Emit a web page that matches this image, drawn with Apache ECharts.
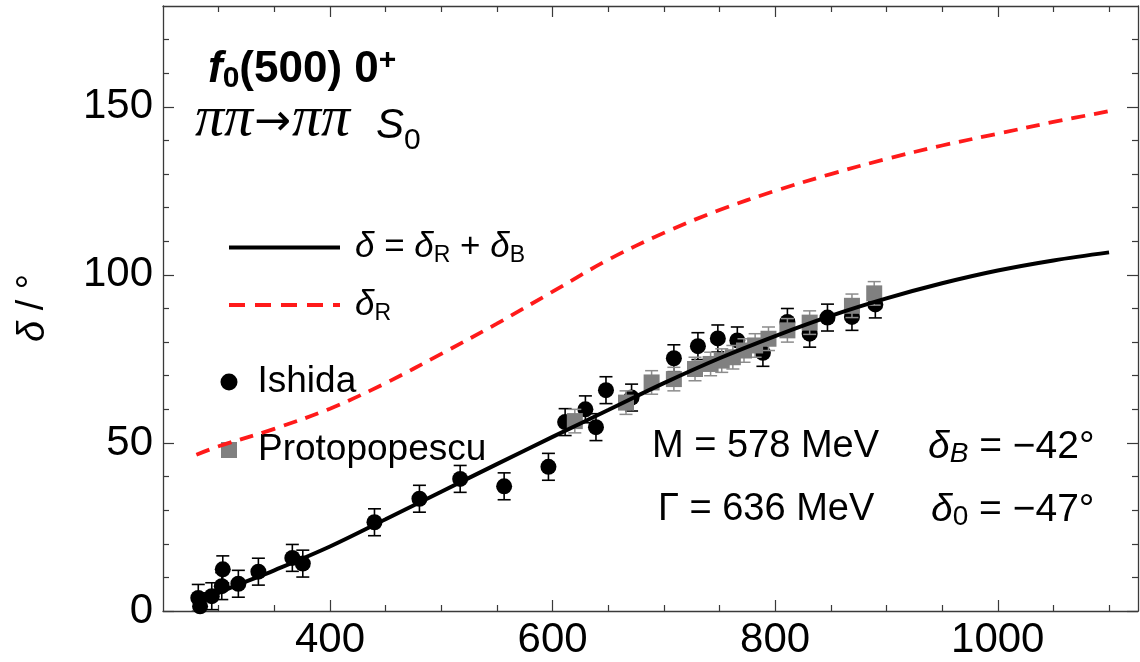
<!DOCTYPE html>
<html><head><meta charset="utf-8">
<script src="https://cdn.jsdelivr.net/npm/echarts@6/dist/echarts.min.js"></script>
<style>html,body{margin:0;padding:0;background:#fff}#c{width:1140px;height:662px}</style>
</head><body><div id="c"></div>
<script>
// ---- tick values ----
const xMajorTicks = [400, 600, 800, 1000];
const xMinorTicks = [300, 350, 450, 500, 550, 650, 700, 750, 850, 900, 950, 1050, 1100];
const yMajorTicks = [0, 50, 100, 150];
const yMinorTicks = [10, 20, 30, 40, 60, 70, 80, 90, 110, 120, 130, 140, 160, 170];

// ---- curves ----
const curveX = [280, 300, 350, 400, 450, 500, 550, 600, 650, 700, 750, 800, 850, 900, 950, 1000, 1050, 1100];
const fitY   = [2, 5.4, 12.1, 19.2, 27.3, 35.5, 43.7, 51.8, 59.8, 67.8, 75.2, 81.8, 87.8, 93, 97.5, 101.3, 104.3, 106.7];
const resY   = [46.5, 49, 54.2, 60.2, 67.8, 76.5, 85.5, 95, 104.5, 112.5, 119.3, 125, 130, 134.5, 138.5, 142, 145.5, 148.7];

// ---- Ishida data ----
const ishidaX   = [281.7, 283.3, 293.8, 302.8, 303.7, 317.7, 335.7, 366.2, 375.6, 440, 480.4, 517, 556.5, 596.3, 611.3, 629.5, 639, 648, 671, 709, 730.6, 748.5, 766, 789, 811, 831, 847, 869, 890];
const ishidaY   = [3.9, 1.4, 4.4, 7.4, 12.4, 8.1, 11.7, 15.8, 14.1, 26.4, 33.4, 39.3, 37.1, 42.9, 56.2, 60, 54.7, 65.7, 63.5, 75.2, 78.8, 81.1, 80.5, 76.8, 86, 82.5, 87.3, 87.5, 91.2];
const ishidaErr = [4, 4, 4, 4, 4, 4, 4, 4, 4, 4, 4, 4, 4, 4, 4, 4, 4, 4, 4, 4, 4, 4, 4, 4, 4, 4, 4, 4, 4];

// ---- Protopopescu data ----
const protoX   = [620, 666, 689, 709, 728, 742, 752, 762, 772, 782, 794, 811, 831, 869, 889];
const protoY   = [56.5, 62, 68, 69, 72, 73.5, 74.5, 75.5, 77.5, 79, 81, 83.5, 85.8, 90.8, 94.5];
const protoErr = [3.5, 3.5, 3.5, 3.5, 3.5, 3.5, 3.5, 3.5, 3.5, 3.5, 3.5, 3.5, 3.5, 3.5, 3.5];

const FONT = "'Liberation Sans', Arial, Helvetica, sans-serif";
const SERIF = "'Liberation Serif', 'Times New Roman', serif";
const FRAME = '#3a3a3a';
const TICKFS = 42;

const zip = (a, b, c) => a.map((v, i) => c ? [v, b[i], c[i]] : [v, b[i]]);

function errRender(color, width) {
  return function (params, api) {
    const x = api.value(0), y = api.value(1), e = api.value(2);
    const t = api.coord([x, y + e]);
    const b = api.coord([x, y - e]);
    const hw = 6.5;
    const style = { stroke: color, lineWidth: width, fill: null };
    return {
      type: 'group',
      children: [
        { type: 'line', shape: { x1: t[0], y1: t[1], x2: b[0], y2: b[1] }, style },
        { type: 'line', shape: { x1: t[0] - hw, y1: t[1], x2: t[0] + hw, y2: t[1] }, style },
        { type: 'line', shape: { x1: b[0] - hw, y1: b[1], x2: b[0] + hw, y2: b[1] }, style }
      ]
    };
  };
}

function xAx(pos, vals, len, labels, line) {
  return {
    type: 'value', min: 250, max: 1126, position: pos,
    axisLine: { show: line, onZero: false, lineStyle: { color: FRAME, width: 1.3 } },
    axisTick: { show: true, inside: true, length: len, customValues: vals, lineStyle: { color: FRAME, width: 1.2 } },
    axisLabel: labels ? { show: true, customValues: vals, fontSize: TICKFS, fontFamily: FONT, color: '#000', margin: 8, formatter: v => String(v) } : { show: false },
    splitLine: { show: false }
  };
}
function yAx(pos, vals, len, labels, line) {
  return {
    type: 'value', min: 0, max: 180, position: pos,
    axisLine: { show: line, onZero: false, lineStyle: { color: FRAME, width: 1.3 } },
    axisTick: { show: true, inside: true, length: len, customValues: vals, lineStyle: { color: FRAME, width: 1.2 } },
    axisLabel: labels ? { show: true, customValues: vals, fontSize: TICKFS, fontFamily: FONT, color: '#000', margin: 10, formatter: v => String(v) } : { show: false },
    splitLine: { show: false }
  };
}

const chart = echarts.init(document.getElementById('c'), null, { renderer: 'canvas' });

const richLegend = {
  i: { fontSize: 35, fontStyle: 'italic', fontFamily: FONT, lineHeight: 40 },
  s: { fontSize: 23, fontFamily: FONT, lineHeight: 28, verticalAlign: 'bottom' }
};

chart.setOption({
  backgroundColor: '#fff',
  animation: false,
  grid: { left: 163, right: 2, top: 6, bottom: 51, outerBoundsMode: 'none', containLabel: false },
  xAxis: [
    xAx('bottom', xMajorTicks, 11, true, true),
    xAx('bottom', xMinorTicks, 6, false, false),
    xAx('top', xMajorTicks, 11, false, true),
    xAx('top', xMinorTicks, 6, false, false)
  ],
  yAxis: [
    yAx('left', yMajorTicks, 11, true, true),
    yAx('left', yMinorTicks, 6, false, false),
    yAx('right', yMajorTicks, 11, false, true),
    yAx('right', yMinorTicks, 6, false, false)
  ],
  legend: [
    {
      data: ['fit'], left: 227, top: 227.5, padding: 0, itemWidth: 111, itemHeight: 10,
      selectedMode: false,
      itemStyle: { opacity: 0 },
      lineStyle: { width: 4 },
      formatter: () => '{i|δ} = {i|δ}{s|R} + {i|δ}{s|B}',
      textStyle: { fontSize: 35, fontFamily: FONT, color: '#000', lineHeight: 40, padding: [0, 0, 0, 10], rich: richLegend }
    },
    {
      data: ['res'], left: 227, top: 285, padding: 0, itemWidth: 111, itemHeight: 10,
      selectedMode: false,
      itemStyle: { opacity: 0 },
      lineStyle: { width: 4, type: [16, 10] },
      formatter: () => '{i|δ}{s|R}',
      textStyle: { fontSize: 35, fontFamily: FONT, color: '#000', lineHeight: 40, padding: [0, 0, 0, 10], rich: richLegend }
    },
    {
      data: ['Ishida'], left: 220.5, top: 362, padding: 0, itemWidth: 17, itemHeight: 17,
      selectedMode: false,
      textStyle: { fontSize: 37, fontFamily: FONT, color: '#000', lineHeight: 40, padding: [0, 0, 0, 15] }
    },
    {
      data: ['Protopopescu'], left: 221, top: 430, padding: 0, itemWidth: 16, itemHeight: 16,
      selectedMode: false,
      textStyle: { fontSize: 37, fontFamily: FONT, color: '#000', lineHeight: 40, padding: [0, 0, 0, 16] }
    }
  ],
  graphic: [
    {
      type: 'text', x: 208, y: 70, z: 10,
      style: {
        text: '{fi|f}{sub|0}{b|(500) 0}{sup|+}',
        verticalAlign: 'middle', align: 'left',
        rich: {
          fi: { fontSize: 44, fontWeight: 'bold', fontStyle: 'italic', fontFamily: FONT, lineHeight: 48, fill: '#000' },
          b: { fontSize: 44, fontWeight: 'bold', fontFamily: FONT, lineHeight: 48, fill: '#000' },
          sub: { fontSize: 30, fontWeight: 'bold', fontFamily: FONT, lineHeight: 32, verticalAlign: 'bottom', fill: '#000' },
          sup: { fontSize: 30, fontWeight: 'bold', fontFamily: FONT, lineHeight: 30, verticalAlign: 'top', fill: '#000' }
        }
      }
    },
    {
      type: 'text', x: 195, y: 126, z: 10,
      style: {
        text: '{p|ππ}{a|→}{p|ππ}{g| }{i|S}{sub|0}',
        verticalAlign: 'middle', align: 'left',
        rich: {
          p: { fontSize: 58, fontStyle: 'italic', fontFamily: SERIF, lineHeight: 60, padding: [0, 0, 12, 0], fill: '#000' },
          a: { fontSize: 44, fontFamily: "'DejaVu Sans', sans-serif", lineHeight: 60, padding: [0, 1, 4, 1], fill: '#000' },
          g: { fontSize: 20, width: 26, lineHeight: 60 },
          i: { fontSize: 42, fontStyle: 'italic', fontFamily: FONT, lineHeight: 60, fill: '#000' },
          sub: { fontSize: 30, fontFamily: FONT, lineHeight: 44, verticalAlign: 'bottom', fill: '#000' }
        }
      }
    },
    {
      type: 'text', x: 652, y: 447, z: 10,
      style: { text: 'M = 578 MeV', fontSize: 38, fontFamily: FONT, fill: '#000', verticalAlign: 'middle', align: 'left' }
    },
    {
      type: 'text', x: 658, y: 510, z: 10,
      style: { text: 'Γ = 636 MeV', fontSize: 38, fontFamily: FONT, fill: '#000', verticalAlign: 'middle', align: 'left' }
    },
    {
      type: 'text', x: 928, y: 447, z: 10,
      style: {
        text: '{i|δ}{si|B}{n| = −42°}', verticalAlign: 'middle', align: 'left',
        rich: {
          i: { fontSize: 39, fontStyle: 'italic', fontFamily: FONT, lineHeight: 42, fill: '#000' },
          si: { fontSize: 28, fontStyle: 'italic', fontFamily: FONT, lineHeight: 28, verticalAlign: 'bottom', fill: '#000' },
          n: { fontSize: 39, fontFamily: FONT, lineHeight: 42, fill: '#000' }
        }
      }
    },
    {
      type: 'text', x: 931, y: 510, z: 10,
      style: {
        text: '{i|δ}{s|0}{n| = −47°}', verticalAlign: 'middle', align: 'left',
        rich: {
          i: { fontSize: 39, fontStyle: 'italic', fontFamily: FONT, lineHeight: 42, fill: '#000' },
          s: { fontSize: 28, fontFamily: FONT, lineHeight: 28, verticalAlign: 'bottom', fill: '#000' },
          n: { fontSize: 39, fontFamily: FONT, lineHeight: 42, fill: '#000' }
        }
      }
    },
    {
      type: 'text', x: 33, y: 308, rotation: Math.PI / 2, z: 10,
      style: {
        text: '{i|δ}{n| / °}', align: 'center', verticalAlign: 'middle',
        rich: {
          i: { fontSize: 38, fontStyle: 'italic', fontFamily: FONT, fill: '#000' },
          n: { fontSize: 38, fontFamily: FONT, fill: '#000' }
        }
      }
    }
  ],
  series: [
    {
      name: 'IshidaErr', type: 'custom', xAxisIndex: 0, yAxisIndex: 0, z: 1, clip: true,
      data: zip(ishidaX, ishidaY, ishidaErr), encode: { x: 0, y: 1 },
      renderItem: errRender('#000', 1.6)
    },
    {
      name: 'Ishida', type: 'scatter', xAxisIndex: 0, yAxisIndex: 0, z: 2,
      symbol: 'circle', symbolSize: 16,
      itemStyle: { color: '#000', opacity: 1 },
      data: zip(ishidaX, ishidaY)
    },
    {
      name: 'ProtoErr', type: 'custom', xAxisIndex: 0, yAxisIndex: 0, z: 3, clip: true,
      data: zip(protoX, protoY, protoErr), encode: { x: 0, y: 1 },
      renderItem: errRender('#8c8c8c', 1.5)
    },
    {
      name: 'Protopopescu', type: 'scatter', xAxisIndex: 0, yAxisIndex: 0, z: 4,
      symbol: 'rect', symbolSize: 16,
      itemStyle: { color: '#808080', opacity: 1 },
      data: zip(protoX, protoY)
    },
    {
      name: 'res', type: 'line', xAxisIndex: 0, yAxisIndex: 0, z: 5,
      smooth: 0.35, symbol: 'none',
      lineStyle: { color: '#ff1a1a', width: 3.8, type: [14, 9] },
      itemStyle: { color: '#ff1a1a' },
      data: zip(curveX, resY)
    },
    {
      name: 'fit', type: 'line', xAxisIndex: 0, yAxisIndex: 0, z: 6,
      smooth: 0.35, symbol: 'none',
      lineStyle: { color: '#000', width: 4 },
      itemStyle: { color: '#000' },
      data: zip(curveX, fitY)
    }
  ]
});
</script>
</body></html>
